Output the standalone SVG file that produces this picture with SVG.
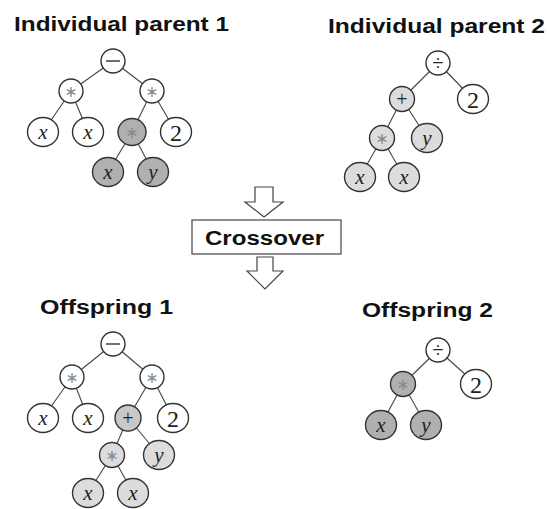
<svg xmlns="http://www.w3.org/2000/svg" width="547" height="509" viewBox="0 0 547 509">
<style>
.title{font-family:"Liberation Sans",Arial,sans-serif;font-weight:bold;font-size:20px;fill:#111}
.n{stroke:#333;stroke-width:1.4;fill:#fff}
.n.dk{fill:#b0b0b0}
.n.md{fill:#c8c8c8}
.n.lt{fill:#dcdcdc}
.s{font-family:"Liberation Serif","Times New Roman",serif;text-anchor:middle;fill:#222}
.v{font-style:italic;font-size:21px}
.num{font-size:24px}
.op{font-size:20px}
.ast{font-family:"DejaVu Sans",sans-serif;font-size:16px;fill:#8a8a8a;text-anchor:middle}
.e{stroke:#444;stroke-width:1.1;fill:none}
.arr{fill:#fff;stroke:#444;stroke-width:1.2}
</style>

<text class="title" x="14" y="31" textLength="215" lengthAdjust="spacingAndGlyphs">Individual parent 1</text>
<text class="title" x="328" y="33" textLength="217" lengthAdjust="spacingAndGlyphs">Individual parent 2</text>
<text class="title" x="40" y="314" textLength="133" lengthAdjust="spacingAndGlyphs">Offspring 1</text>
<text class="title" x="362" y="317" textLength="131" lengthAdjust="spacingAndGlyphs">Offspring 2</text>

<g id="connectors">
  <line class="e" x1="113" y1="61" x2="71" y2="91"/>
  <line class="e" x1="113" y1="61" x2="152" y2="91"/>
  <line class="e" x1="71" y1="91" x2="43" y2="132"/>
  <line class="e" x1="71" y1="91" x2="88" y2="132"/>
  <line class="e" x1="152" y1="91" x2="132" y2="132"/>
  <line class="e" x1="152" y1="91" x2="176" y2="132"/>
  <line class="e" x1="132" y1="132" x2="108" y2="172"/>
  <line class="e" x1="132" y1="132" x2="153" y2="172"/>
  <line class="e" x1="438" y1="63" x2="402" y2="99"/>
  <line class="e" x1="438" y1="63" x2="473" y2="99"/>
  <line class="e" x1="402" y1="99" x2="382" y2="138"/>
  <line class="e" x1="402" y1="99" x2="427" y2="138"/>
  <line class="e" x1="382" y1="138" x2="360" y2="177"/>
  <line class="e" x1="382" y1="138" x2="404" y2="177"/>
  <line class="e" x1="113" y1="344" x2="72" y2="377"/>
  <line class="e" x1="113" y1="344" x2="152" y2="377"/>
  <line class="e" x1="72" y1="377" x2="43" y2="418"/>
  <line class="e" x1="72" y1="377" x2="88" y2="418"/>
  <line class="e" x1="152" y1="377" x2="128" y2="418"/>
  <line class="e" x1="152" y1="377" x2="173" y2="418"/>
  <line class="e" x1="128" y1="418" x2="112" y2="455"/>
  <line class="e" x1="128" y1="418" x2="159" y2="455"/>
  <line class="e" x1="112" y1="455" x2="88" y2="493"/>
  <line class="e" x1="112" y1="455" x2="133" y2="493"/>
  <line class="e" x1="438" y1="350" x2="403" y2="384"/>
  <line class="e" x1="438" y1="350" x2="476" y2="384"/>
  <line class="e" x1="403" y1="384" x2="381" y2="425"/>
  <line class="e" x1="403" y1="384" x2="426" y2="425"/>
</g>

<g id="p1-root"><circle class="n" cx="113" cy="61" r="12"/><line x1="106" y1="61" x2="120" y2="61" stroke="#222" stroke-width="1.3"/></g>
<g id="p1-mulL"><circle class="n" cx="71" cy="91" r="12"/><text class="ast" x="71" y="97">∗</text></g>
<g id="p1-mulR"><circle class="n" cx="152" cy="91" r="12"/><text class="ast" x="152" y="97">∗</text></g>
<g id="p1-x1"><ellipse class="n" cx="43" cy="132" rx="15.5" ry="14.5"/><text class="s v" x="43" y="139">x</text></g>
<g id="p1-x2"><ellipse class="n" cx="88" cy="132" rx="15.5" ry="14.5"/><text class="s v" x="88" y="139">x</text></g>
<g id="p1-mul2"><ellipse class="n dk" cx="132" cy="132" rx="14" ry="13.5"/><text class="ast" x="132" y="138">∗</text></g>
<g id="p1-two"><ellipse class="n" cx="176" cy="132" rx="15.5" ry="14.5"/><text class="s num" x="176" y="141">2</text></g>
<g id="p1-x3"><ellipse class="n dk" cx="108" cy="172" rx="15.5" ry="14.5"/><text class="s v" x="108" y="179">x</text></g>
<g id="p1-y"><ellipse class="n dk" cx="153" cy="172" rx="15.5" ry="14.5"/><text class="s v" x="153" y="179">y</text></g>

<g id="p2-root"><circle class="n" cx="438" cy="63" r="12"/><text class="s op" x="438" y="70">÷</text></g>
<g id="p2-plus"><circle class="n lt" cx="402" cy="99" r="12.5"/><text class="s op" x="402" y="106">+</text></g>
<g id="p2-two"><ellipse class="n" cx="473" cy="99" rx="15.5" ry="14.5"/><text class="s num" x="473" y="108">2</text></g>
<g id="p2-mul"><circle class="n lt" cx="382" cy="138" r="12.5"/><text class="ast" x="382" y="144">∗</text></g>
<g id="p2-y"><ellipse class="n lt" cx="427" cy="138" rx="15.5" ry="14.5"/><text class="s v" x="427" y="145">y</text></g>
<g id="p2-x1"><ellipse class="n lt" cx="360" cy="177" rx="15.5" ry="14.5"/><text class="s v" x="360" y="184">x</text></g>
<g id="p2-x2"><ellipse class="n lt" cx="404" cy="177" rx="15.5" ry="14.5"/><text class="s v" x="404" y="184">x</text></g>

<g id="arrow-top"><polygon class="arr" points="255,187 273,187 273,202 283,202 264,217 245,202 255,202"/></g>
<g id="crossover"><rect x="192" y="220" width="149" height="34" fill="#fff" stroke="#444" stroke-width="1.2"/><text class="title" x="205" y="245" textLength="119" lengthAdjust="spacingAndGlyphs">Crossover</text></g>
<g id="arrow-bottom"><polygon class="arr" points="257,257 273,257 273,271 283,271 265,289 247,271 257,271"/></g>

<g id="o1-root"><circle class="n" cx="113" cy="344" r="12"/><line x1="106" y1="344" x2="120" y2="344" stroke="#222" stroke-width="1.3"/></g>
<g id="o1-mulL"><circle class="n" cx="72" cy="377" r="12"/><text class="ast" x="72" y="383">∗</text></g>
<g id="o1-mulR"><circle class="n" cx="152" cy="377" r="12"/><text class="ast" x="152" y="383">∗</text></g>
<g id="o1-x1"><ellipse class="n" cx="43" cy="418" rx="15.5" ry="14.5"/><text class="s v" x="43" y="425">x</text></g>
<g id="o1-x2"><ellipse class="n" cx="88" cy="418" rx="15.5" ry="14.5"/><text class="s v" x="88" y="425">x</text></g>
<g id="o1-plus"><circle class="n md" cx="128" cy="418" r="13"/><text class="s op" x="128" y="425">+</text></g>
<g id="o1-two"><ellipse class="n" cx="173" cy="418" rx="15.5" ry="14.5"/><text class="s num" x="173" y="427">2</text></g>
<g id="o1-mul"><circle class="n lt" cx="112" cy="455" r="12.5"/><text class="ast" x="112" y="461">∗</text></g>
<g id="o1-y"><ellipse class="n lt" cx="159" cy="455" rx="15.5" ry="14.5"/><text class="s v" x="159" y="462">y</text></g>
<g id="o1-x3"><ellipse class="n lt" cx="88" cy="493" rx="15.5" ry="14.5"/><text class="s v" x="88" y="500">x</text></g>
<g id="o1-x4"><ellipse class="n lt" cx="133" cy="493" rx="15.5" ry="14.5"/><text class="s v" x="133" y="500">x</text></g>

<g id="o2-root"><circle class="n" cx="438" cy="350" r="12"/><text class="s op" x="438" y="357">÷</text></g>
<g id="o2-mul"><circle class="n dk" cx="403" cy="384" r="12.5"/><text class="ast" x="403" y="390">∗</text></g>
<g id="o2-two"><ellipse class="n" cx="476" cy="384" rx="15.5" ry="14.5"/><text class="s num" x="476" y="393">2</text></g>
<g id="o2-x"><ellipse class="n dk" cx="381" cy="425" rx="15.5" ry="14.5"/><text class="s v" x="381" y="432">x</text></g>
<g id="o2-y"><ellipse class="n dk" cx="426" cy="425" rx="15.5" ry="14.5"/><text class="s v" x="426" y="432">y</text></g>
</svg>
